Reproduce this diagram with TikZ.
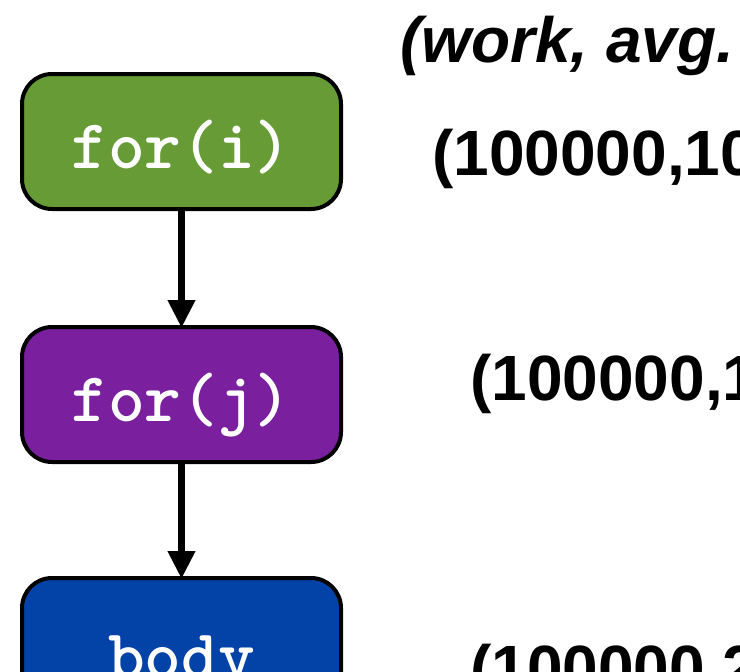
\documentclass[tikz,border=0pt]{standalone}
\usepackage{fontspec}
\setmainfont{Liberation Sans}
\usepackage{tikz}
\usetikzlibrary{arrows.meta}

\definecolor{loopGreen}{RGB}{102,155,53}
\definecolor{loopPurple}{RGB}{122,31,158}
\definecolor{bodyBlue}{RGB}{3,67,168}

\begin{document}
\begin{tikzpicture}[x = 1pt, y = -1pt,
		loopbox/.style = {draw = black, line width = 4pt, rounded corners = 30pt,
			minimum width = 319pt, minimum height = 135pt, inner sep = 0pt,
			text height = 53pt, text depth = 0pt,
			text = white, font = \ttfamily\bfseries\fontsize{70}{76}\selectfont},
		costlabel/.style = {anchor = base west, inner sep = 0pt,
			font = \bfseries\fontsize{64}{70}\selectfont},
		flow/.style = {line width = 7pt, shorten >= -3pt,
			-{Triangle[width = 26pt, length = 28pt]}}]
	\def\boxX{181.5};

	\useasboundingbox (0,0) rectangle (740,672);
	\clip (0,0) rectangle (740,672);

	\begin{scope}
		\node [loopbox, fill = loopGreen] (fori) at (\boxX,141.5) {for(i)};
		\node [loopbox, fill = loopPurple] (forj) at (\boxX,394.5) {for(j)};
		\node [loopbox, fill = bodyBlue, minimum height = 148pt] (body) at (\boxX,652) {body};
	\end{scope}

	\draw [flow] (fori) -- (forj);
	\draw [flow] (forj) -- (body);

	\begin{scope}
		\node [costlabel, font = \bfseries\itshape\fontsize{64}{70}\selectfont] (head) at (400,62) {(work, avg.};
		\node [costlabel] (costi) at (432,175) {(100000,10};
		\node [costlabel] (costj) at (470,400) {(100000,1};
		\node [costlabel] (costbody) at (470,690) {(100000,2};
	\end{scope}
\end{tikzpicture}
\end{document}
